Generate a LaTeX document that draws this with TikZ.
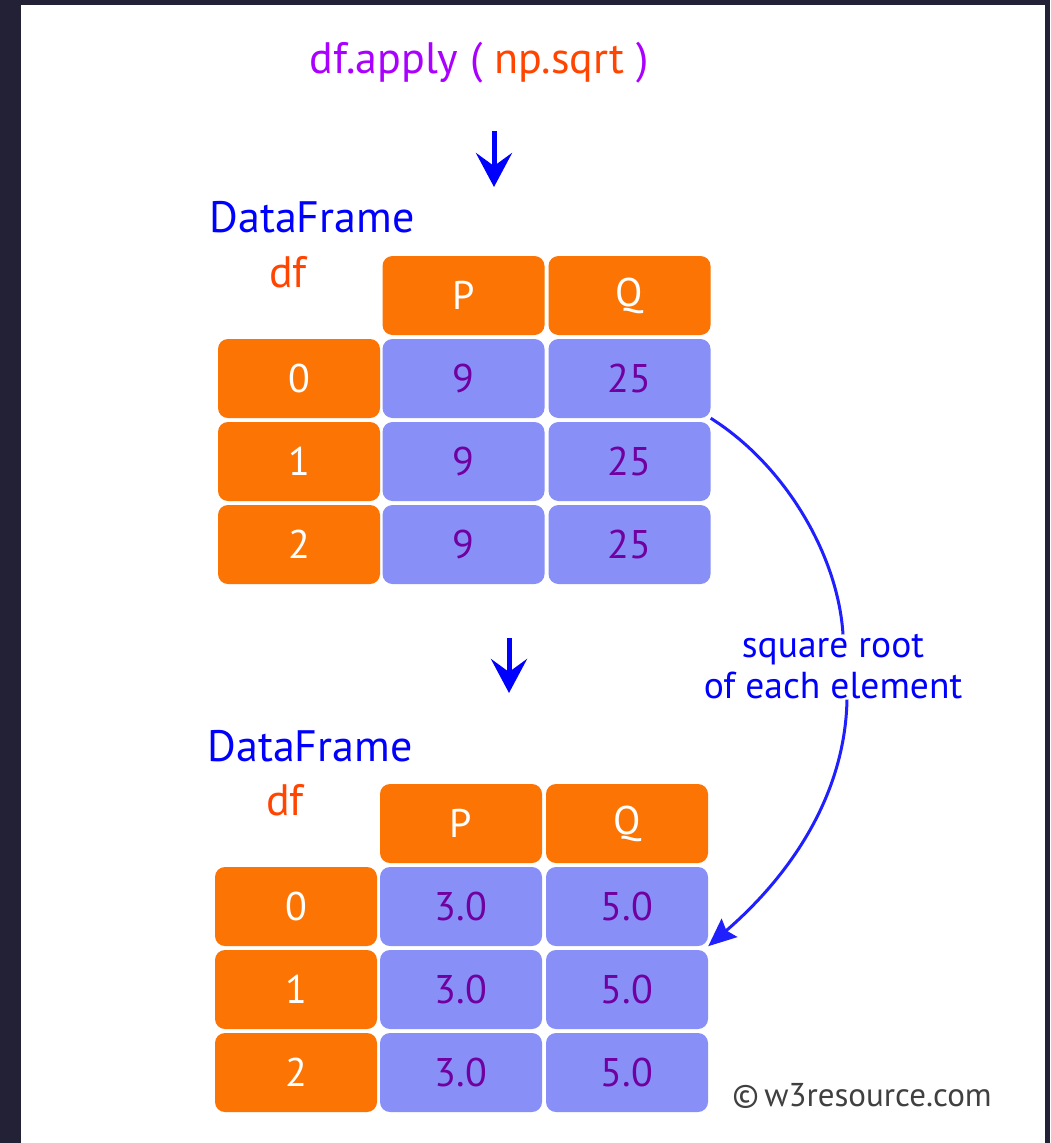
\documentclass[tikz,border=0pt]{standalone}
\usepackage{fontspec}
\setmainfont{PT Sans}
\usetikzlibrary{arrows.meta}

\definecolor{frameDark}{RGB}{34,33,54}
\definecolor{hdrOrange}{RGB}{252,116,4}
\definecolor{valBlue}{RGB}{136,144,248}
\definecolor{valPurple}{RGB}{112,0,160}
\definecolor{callPurple}{RGB}{170,0,255}
\definecolor{dfRed}{RGB}{255,69,0}
\definecolor{arrBlue}{RGB}{32,32,255}
\definecolor{noteGray}{RGB}{64,64,64}

\begin{document}
\begin{tikzpicture}[x=1pt, y=-1pt,
    cell/.style={rounded corners=10pt, minimum width=162pt, minimum height=79pt,
        inner sep=0pt, font=\fontsize{40}{48}\selectfont},
    hdr/.style={cell, fill=hdrOrange, text=white},
    val/.style={cell, fill=valBlue, text=valPurple},
    big/.style={anchor=base, font=\fontsize{44}{50}\selectfont},
    downarrow/.style={draw=blue, line width=5pt, -{Stealth[length=34pt, width=36pt, inset=13pt]}},
    curveline/.style={draw=arrBlue, line width=3pt}]

        % frame
        \fill[frameDark] (0,0) rectangle (1050,1143);
        \fill[white] (21,5) rectangle (1045,1143);
        \useasboundingbox (0,0) rectangle (1050,1143);

        % nodes
        \node(call) [big] at (479,73) {\textcolor{callPurple}{df.apply (} \textcolor{dfRed}{np.sqrt} \textcolor{callPurple}{)}};
        \coordinate(a1) at (494,131);
        \coordinate(a2) at (494,187);

        \node(tname) [big, text=blue] at (312,232) {DataFrame};
        \node(tdf) [big, text=dfRed] at (288,287) {df};
        \node(tP) [hdr] at (463.5,295.5) {P};
        \node(tQ) [hdr] at (629.5,295.5) {Q};
        \foreach \r in {0,1,2} {
            \node(ti\r) [hdr] at (299,378.5+83*\r) {\r};
            \node(tp\r) [val] at (463.5,378.5+83*\r) {9};
            \node(tq\r) [val] at (629.5,378.5+83*\r) {25};
        }

        \coordinate(b1) at (509,638);
        \coordinate(b2) at (509,693);

        \node(bname) [big, text=blue] at (310,761) {DataFrame};
        \node(bdf) [big, text=dfRed] at (285,815) {df};
        \node(bP) [hdr] at (461,823.5) {P};
        \node(bQ) [hdr] at (627,823.5) {Q};
        \foreach \r in {0,1,2} {
            \node(bi\r) [hdr] at (296,906.5+83*\r) {\r};
            \node(bp\r) [val] at (461,906.5+83*\r) {3.0};
            \node(bq\r) [val] at (627,906.5+83*\r) {5.0};
        }

        \node(sqrt) [text=blue, align=center, inner sep=0pt, font=\fontsize{37.5}{41}\selectfont] at (833,667) {square root\\of each element};
        \node(note) [anchor=base, text=noteGray, font=\fontsize{33}{38}\selectfont] at (862,1106) {©\,w3resource.com};

        %edges
        \draw[downarrow] (a1) -- (a2);
        \draw[downarrow] (b1) -- (b2);
        \draw[curveline] (tq0.south east) .. controls (785,465) and (838,555) .. ([xshift=10pt]sqrt.north);
        \draw[curveline, -{Stealth[length=28pt, width=24pt, inset=4pt]}] ([xshift=14pt]sqrt.south) .. controls (845,800) and (785,880) .. (bq0.south east);

\end{tikzpicture}
\end{document}
